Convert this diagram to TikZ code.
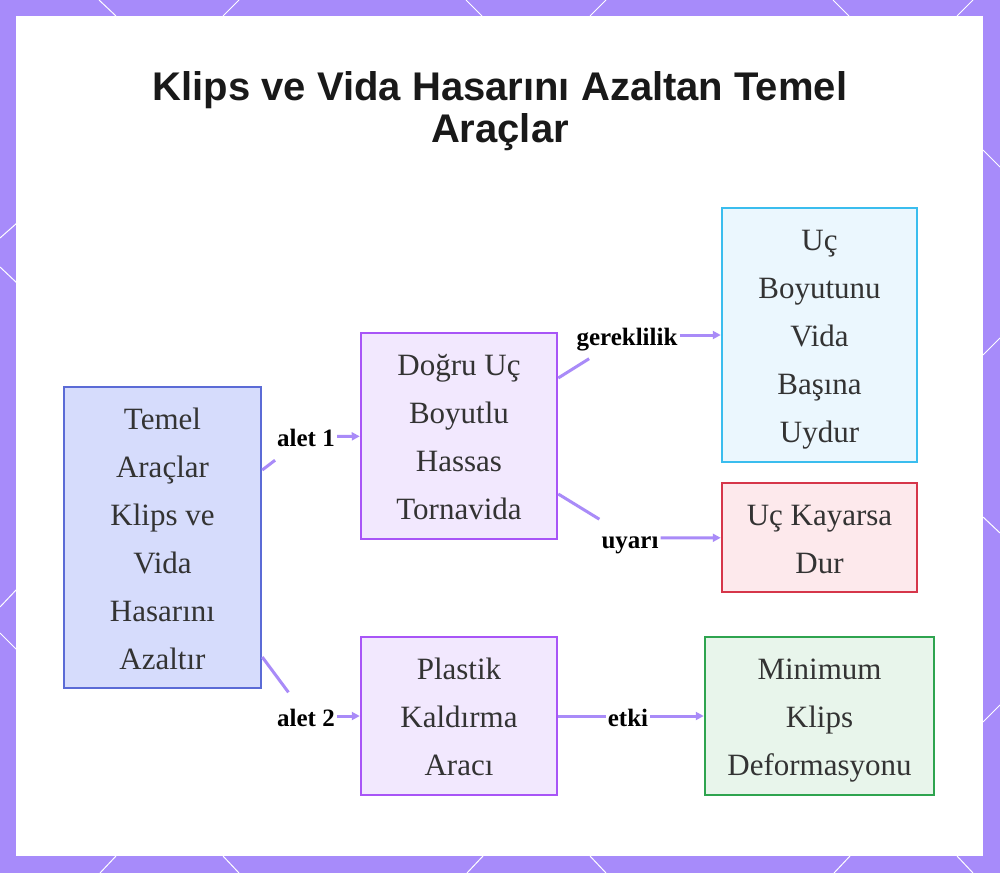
\documentclass[tikz,border=0pt]{standalone}
\usepackage{fontspec}
\setmainfont{Liberation Serif}
\newfontfamily\headfont{Liberation Sans}
\usetikzlibrary{arrows.meta}
\definecolor{frameLilac}{HTML}{A78BFA}
\definecolor{edgeLilac}{HTML}{A98BF8}
\definecolor{rootBlue}{HTML}{5B6BD6}
\definecolor{rootFill}{HTML}{D6DCFC}
\definecolor{toolPurple}{HTML}{A855F7}
\definecolor{toolFill}{HTML}{F2E8FE}
\definecolor{needCyan}{HTML}{3ABDEE}
\definecolor{needFill}{HTML}{EBF7FE}
\definecolor{warnRed}{HTML}{D6364A}
\definecolor{warnFill}{HTML}{FDE9EC}
\definecolor{resultGreen}{HTML}{2EA44F}
\definecolor{resultFill}{HTML}{E8F5EB}
\definecolor{inkGray}{HTML}{333333}
% struts for the first and last line, so every box centres its lines alike
\newcommand{\topstrut}{\rule{0pt}{31pt}}
\newcommand{\bottomstrut}{\rule[-8pt]{0pt}{8pt}}

\begin{document}
\begin{tikzpicture}[
        x=1pt, y=-1pt,
        stepnode/.style={
            draw,
            line width=2.5pt,
            align=center,
            inner sep=0pt,
            text=inkGray,
            font=\fontsize{31}{48}\selectfont,
            execute at end node=\bottomstrut
        },
        rootbox/.style={
            stepnode,
            draw=rootBlue,
            fill=rootFill,
            minimum width=197pt,
            minimum height=301pt
        },
        toolbox/.style={
            stepnode,
            draw=toolPurple,
            fill=toolFill,
            minimum width=196pt
        },
        needbox/.style={
            stepnode,
            draw=needCyan,
            fill=needFill,
            minimum width=195pt,
            minimum height=254pt
        },
        warnbox/.style={
            stepnode,
            draw=warnRed,
            fill=warnFill,
            minimum width=195pt,
            minimum height=109pt
        },
        resultbox/.style={
            stepnode,
            draw=resultGreen,
            fill=resultFill,
            minimum width=229pt,
            minimum height=158pt
        },
        edgelabel/.style={
            fill=white,
            inner xsep=2pt,
            inner ysep=0pt,
            minimum height=47pt,
            text height=24pt,
            text depth=4pt,
            font=\fontsize{25}{30}\selectfont\bfseries,
            text=black
        },
        link/.style={
            draw=edgeLilac,
            line width=3pt
        },
        arrowlink/.style={
            link,
            -{Triangle[length=8pt,width=8pt]}
        },
        hexline/.style={
            draw=white,
            line width=1pt
        }
    ]

    % frame with the white panel, pixel units (y grows downward)
    \useasboundingbox (0,0) rectangle (1000,873);
    \fill[frameLilac] (0,0) rectangle (1000,873);
    \foreach \xa/\ya/\xb/\yb in {99/0/116/16, 239/0/223/16, 466/0/482/16,
            606/0/590/16, 833/0/849/16, 973/0/957/16,
            116/856/100/873, 223/856/239/873, 483/856/467/873,
            590/856/606/873, 850/856/834/873, 957/856/973/873,
            17/223/0/238, 0/267/17/283, 17/589/0/607, 0/633/17/650,
            983/150/1000/167, 983/355/1000/338, 983/517/1000/533, 983/722/1000/705}
        \draw[hexline] (\xa,\ya) -- (\xb,\yb);
    \fill[white] (16,16) rectangle (983,856);

    \node[anchor=north, inner sep=0pt, align=center, text=black!90,
        font=\headfont\bfseries\fontsize{40}{42}\selectfont] (title) at (500,71.5)
        {Klips ve Vida Hasarını Azaltan Temel\\Araçlar};

    \node[rootbox] (root) at (162.5,537.5)
        {\topstrut Temel\\Araçlar\\Klips ve\\Vida\\Hasarını\\Azaltır};
    \node[toolbox, minimum height=206pt] (driver) at (459,436)
        {\topstrut Doğru Uç\\Boyutlu\\Hassas\\Tornavida};
    \node[toolbox, minimum height=158pt] (pry) at (459,716)
        {\topstrut Plastik\\Kaldırma\\Aracı};
    \node[needbox] (tipfit) at (819.5,335)
        {\topstrut Uç\\Boyutunu\\Vida\\Başına\\Uydur};
    \node[warnbox] (slipstop) at (819.5,537.5)
        {\topstrut Uç Kayarsa\\Dur};
    \node[resultbox] (lowdeform) at (819.5,716)
        {\topstrut Minimum\\Klips\\Deformasyonu};

    \node[edgelabel] (tool1) at (306,436.5) {alet 1};
    \node[edgelabel] (tool2) at (306,716) {alet 2};
    \node[edgelabel] (needs) at (627,335) {gereklilik};
    \node[edgelabel] (warns) at (630,538) {uyarı};
    \node[edgelabel] (effect) at (628,716) {etki};

    \draw[link] ([yshift=67.5pt]root.east) -- (tool1);
    \draw[arrowlink] (tool1) -- (driver);
    \draw[link] ([yshift=-119.5pt]root.east) -- (tool2);
    \draw[arrowlink] (tool2) -- (pry);
    \draw[link] ([yshift=58pt]driver.east) -- (needs);
    \draw[arrowlink] (needs) -- (tipfit);
    \draw[link] ([yshift=-58pt]driver.east) -- (warns);
    \draw[arrowlink] (warns) -- (slipstop);
    \draw[link] (pry) -- (effect);
    \draw[arrowlink] (effect) -- (lowdeform);

\end{tikzpicture}
\end{document}
